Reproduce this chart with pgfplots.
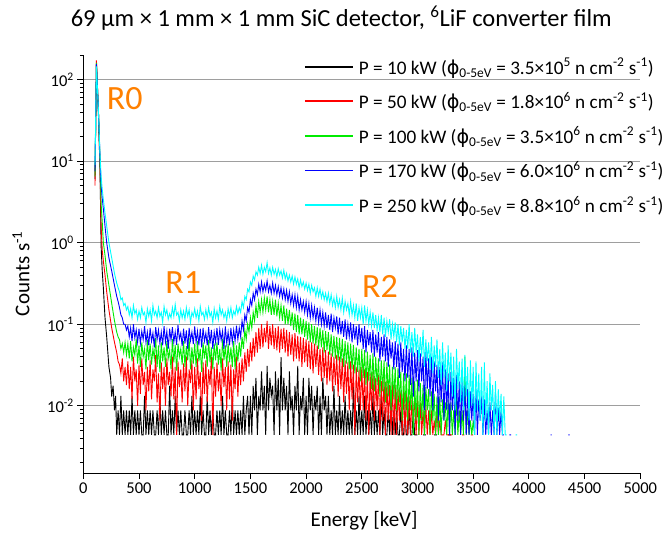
\documentclass[border=0pt]{standalone}
\usepackage{pgfplots}
\pgfplotsset{compat=1.18}
\usepackage{fontspec}
\setmainfont{Carlito}
\newfontfamily\dejavu{DejaVu Sans}
\definecolor{myorange}{RGB}{255,128,0}
\definecolor{mygreen}{RGB}{0,235,0}
\definecolor{mycyan}{RGB}{0,255,255}
\definecolor{myblue}{RGB}{0,0,255}
\definecolor{myred}{RGB}{255,0,0}

\begin{document}
\begin{tikzpicture}
\useasboundingbox (-83.3bp,-63bp) rectangle (580.7bp,473bp);
\begin{axis}[
  at={(0,0)}, anchor=south west,
  scale only axis, width=557bp, height=418bp,
  ymode=log, xmin=0, xmax=5000, ymin=0.0015, ymax=200,
  axis x line=bottom, axis y line=left,
  axis line style={-, line width=0.9bp, black},
  xtick={0,500,1000,1500,2000,2500,3000,3500,4000,4500,5000},
  xticklabels={0,500,1000,1500,2000,2500,3000,3500,4000,4500,5000},
  ytick={0.01,0.1,1,10,100},
  yticklabels={10\textsuperscript{-2},10\textsuperscript{-1},10\textsuperscript{0},10\textsuperscript{1},10\textsuperscript{2}},
  minor ytick={0.002,0.003,0.004,0.005,0.006,0.007,0.008,0.009,0.02,0.03,0.04,0.05,0.06,0.07,0.08,0.09,0.2,0.3,0.4,0.5,0.6,0.7,0.8,0.9,2,3,4,5,6,7,8,9,20,30,40,50,60,70,80,90,200},
  tick align=outside, major tick length=6bp, minor tick length=3.5bp,
  tick style={black, line width=0.9bp},
  ymajorgrids, major grid style={black!38, line width=0.9bp},
  tick label style={font=\fontsize{16.5bp}{19bp}\selectfont},
  xlabel={Energy [keV]}, ylabel={Counts s\textsuperscript{-1}},
  label style={font=\fontsize{21bp}{24bp}\selectfont},
  xlabel style={at={(axis description cs:0.504,-0.115)}, anchor=center},
  ylabel style={at={(axis description cs:-0.112,0.477)}, anchor=center},
  unbounded coords=jump,
  legend style={draw=none, fill=none, at={(axis description cs:0.396,0.998)}, anchor=north west,
    font=\fontsize{19.2bp}{23bp}\selectfont, row sep=12.5bp, column sep=3bp, inner sep=0pt,
    nodes={inner sep=2bp}},
  legend cell align=left,
  legend image code/.code={\draw[#1, line width=1.8bp] (0bp,0bp) -- (48bp,0bp);},
  clip=true,
]
% ---------------- P = 10 kW (black) ----------------
\addplot[black, line width=0.9bp] coordinates {
(105,6)(118,150)(135,40)(150,8)(160,.9)(170,.45)(180,.28)(195,.12)(210,.07)(230,.03)(245,.022)(255,.013)(267.5,.0176)(280,.0088)(290,.0132)(300,.0044)(312.5,.0088)(325,.0044)(337.5,.0132)(350,.0044)(362.5,.0088)(375,.0044)(387.5,.0088)
(400,.0044)(412.5,.0088)(425,.0044)(437.5,.0132)(450,.0044)(462.5,.0088)(475,.0044)(487.5,.0088)
(500,.0044)(512.5,.0088)(525,.0044)(537.5,.0044)(550,.0132)(562.5,.0044)(575,.0088)(587.5,.0044)
(600,.0088)(612.5,.0044)(625,.0088)(637.5,.0044)(650,.0044)(662.5,.0088)(675,.0044)(687.5,.0132)
(700,.0044)(712.5,.0088)(725,.0044)(737.5,.0088)(750,.0044)(762.5,.0044)(775,.0176)(787.5,.0044)
(800,.0088)(812.5,.0044)(825,.0132)(837.5,.0044)(850,.0088)(862.5,.0044)(875,.0088)(887.5,.0044)
(900,.0044)(912.5,.0088)(925,.0044)(937.5,.0044)(950,.0088)(962.5,.0044)(975,.0132)(987.5,.0044)
(1000,.0088)(1012.5,.0044)(1025,.0088)(1037.5,.0044)(1050,.0132)(1062.5,.0044)(1075,.0088)(1087.5,.0044)
(1100,.0044)(1112.5,.0132)(1125,.0044)(1137.5,.0088)(1150,.0044)(1162.5,.0088)(1175,.0044)(1187.5,.0044)
(1200,.0088)(1212.5,.0044)(1225,.0088)(1237.5,.0044)(1250,.0132)(1262.5,.0044)(1275,.0088)(1287.5,.0044)
(1300,.0044)(1312.5,.0088)(1325,.0044)(1337.5,.0132)(1350,.0044)(1362.5,.0088)(1375,.0044)(1387.5,.0088)
(1400,.0044)(1412.5,.0088)(1425,.0044)(1437.5,.0132)(1450,.0044)(1462.5,.0088)(1475,.0132)(1487.5,.0044)
(1500,.0132)(1512.5,.0044)(1525,.0176)(1537.5,.0088)(1550,.022)(1562.5,.0044)(1575,.0132)(1587.5,.0088)
(1600,.0264)(1612.5,.0088)(1625,.0176)(1637.5,.0044)(1650,.0308)(1662.5,.0088)(1675,.022)(1687.5,.0132)
(1700,.0176)(1712.5,.0044)(1725,.0264)(1737.5,.0088)(1750,.022)(1762.5,.0044)(1775,.0396)(1787.5,.0088)
(1800,.022)(1812.5,.0088)(1825,.0176)(1837.5,.0044)(1850,.0264)(1862.5,.0088)(1875,.0132)(1887.5,.0044)
(1900,.0176)(1912.5,.0088)(1925,.0308)(1937.5,.0044)(1950,.0132)(1962.5,.0088)(1975,.022)(1987.5,.0044)
(2000,.0132)(2012.5,.0044)(2025,.022)(2037.5,.0088)(2050,.0176)(2062.5,.0044)(2075,.0132)(2087.5,.0088)
(2100,.0176)(2112.5,.0044)(2125,.0132)(2137.5,.0044)(2150,.022)(2162.5,.0088)(2175,.0132)(2187.5,.0044)
(2200,.0132)(2212.5,.0044)(2225,.0088)(2237.5,.0044)(2250,.0176)(2262.5,.0044)(2275,.0088)(2287.5,.0044)
(2300,.0132)(2312.5,.0044)(2325,.0088)(2337.5,.0044)(2350,.0132)(2362.5,.0044)(2375,.0088)(2387.5,.0044)
(2400,.0088)(2412.5,.0044)(2425,.0176)(2437.5,.0044)(2450,.0088)(2462.5,.0044)(2475,.0132)(2487.5,.0044)
(2500,.0088)(2512.5,.0044)(2525,.0132)(2537.5,.0044)(2550,.0088)(2562.5,.0044)(2575,.0088)(2587.5,.0044)
(2600,.0132)(2612.5,.0044)(2625,.0088)(2637.5,.0044)(2650,.0088)(2662.5,.0044)(2675,.0132)(2687.5,.0044)
(2700,.0088)(2712.5,.0044)(2725,.0044)(2737.5,.0088)(2750,.0044)(2762.5,.0132)(2775,.0044)(2787.5,.0088)
(2800,.0044)(2812.5,.0088)(2825,.0044)(2837.5,.0044)(2850,.0088)(2862.5,.0044)(2875,.0044)(2887.5,.0088)
(2900,.0044)(2912.5,.0044)(2925,.0088)(2937.5,.0044)(2950,.0044)(2962.5,.0088)(2975,.0044)(2987.5,.0044)
(3000,.0044)(3010,nan)(3050,.0044)(3075,.0044)(3090,nan)(3150,.0044)(3175,.0044)(3190,nan)(3275,.0044)(3300,.0044)
};
\addlegendentry{P = 10 kW ({\dejavu ϕ}\textsubscript{0-5eV} = 3.5×10\textsuperscript{5} n cm\textsuperscript{-2} s\textsuperscript{-1})}
% ---------------- P = 50 kW (red) ----------------
\addplot[myred, line width=0.9bp] coordinates {
(105,5)(118,172)(135,45)(150,9)(160,1.6)(170,.8)(180,.6)(195,.4)(210,.25)(230,.15)(255,.09)(280,.06)(300,.045)(312.5,.035)(325,.032)(337.5,.025)(350,.038)(362.5,.02)(375,.03)(387.5,.018)
(400,.035)(412.5,.016)(425,.03)(437.5,.012)(450,.04)(462.5,.02)(475,.028)(487.5,.01)
(500,.032)(512.5,.014)(525,.038)(537.5,.018)(550,.026)(562.5,.0088)(575,.03)(587.5,.015)
(600,.036)(612.5,.012)(625,.028)(637.5,.02)(650,.042)(662.5,.011)(675,.025)(687.5,.0066)
(700,.034)(712.5,.016)(725,.03)(737.5,.01)(750,.038)(762.5,.018)(775,.026)(787.5,.013)
(800,.04)(812.5,.012)(825,.03)(837.5,.0044)(850,.035)(862.5,.017)(875,.028)(887.5,.011)
(900,.033)(912.5,.015)(925,.04)(937.5,.01)(950,.028)(962.5,.019)(975,.036)(987.5,.0088)
(1000,.03)(1012.5,.012)(1025,.038)(1037.5,.016)(1050,.026)(1062.5,.0066)(1075,.034)(1087.5,.014)
(1100,.036)(1112.5,.011)(1125,.028)(1137.5,.018)(1150,.04)(1162.5,.0044)(1175,.03)(1187.5,.013)
(1200,.034)(1212.5,.015)(1225,.026)(1237.5,.01)(1250,.038)(1262.5,.017)(1275,.03)(1287.5,.0088)
(1300,.035)(1312.5,.012)(1325,.032)(1337.5,.0066)(1350,.028)(1362.5,.016)(1375,.04)(1387.5,.013)
(1400,.034)(1412.5,.018)(1425,.038)(1437.5,.02)(1450,.045)(1462.5,.026)(1475,.05)(1487.5,.03)
(1500,.06)(1512.5,.035)(1525,.068)(1537.5,.04)(1550,.08)(1562.5,.045)(1575,.09)(1587.5,.05)
(1600,.1)(1612.5,.052)(1625,.09)(1637.5,.06)(1650,.11)(1662.5,.05)(1675,.095)(1687.5,.055)
(1700,.1)(1712.5,.05)(1725,.09)(1737.5,.048)(1750,.095)(1762.5,.045)(1775,.088)(1787.5,.05)
(1800,.09)(1812.5,.045)(1825,.085)(1837.5,.04)(1850,.08)(1862.5,.042)(1875,.075)(1887.5,.035)
(1900,.078)(1912.5,.038)(1925,.072)(1937.5,.035)(1950,.07)(1962.5,.03)(1975,.068)(1987.5,.034)
(2000,.065)(2012.5,.03)(2025,.062)(2037.5,.028)(2050,.06)(2062.5,.025)(2075,.058)(2087.5,.03)
(2100,.055)(2112.5,.024)(2125,.05)(2137.5,.02)(2150,.052)(2162.5,.022)(2175,.048)(2187.5,.018)
(2200,.046)(2212.5,.02)(2225,.044)(2237.5,.015)(2250,.04)(2262.5,.018)(2275,.042)(2287.5,.013)
(2300,.04)(2312.5,.016)(2325,.038)(2337.5,.011)(2350,.036)(2362.5,.014)(2375,.034)(2387.5,.0088)
(2400,.035)(2412.5,.012)(2425,.032)(2437.5,.0044)(2450,.03)(2462.5,.011)(2475,.028)(2487.5,.0088)
(2500,.03)(2512.5,.0088)(2525,.028)(2537.5,.0066)(2550,.026)(2562.5,.0044)(2575,.025)(2587.5,.0088)
(2600,.026)(2612.5,.0066)(2625,.022)(2637.5,.0088)(2650,.024)(2662.5,.0044)(2675,.02)(2687.5,.0066)
(2700,.022)(2712.5,.0044)(2725,.02)(2737.5,.0066)(2750,.018)(2762.5,.0044)(2775,.019)(2787.5,.0044)
(2800,.018)(2812.5,.0044)(2825,.016)(2837.5,.0066)(2850,.015)(2862.5,.0044)(2875,.016)(2887.5,.0044)
(2900,.015)(2912.5,.0044)(2925,.013)(2937.5,.0044)(2950,.012)(2962.5,.0066)(2975,.013)(2987.5,.0044)
(3000,.012)(3012.5,.0044)(3025,.011)(3037.5,.0044)(3050,.0088)(3062.5,.0044)(3075,.01)(3087.5,.0044)
(3100,.0088)(3112.5,.0044)(3125,.0088)(3137.5,.0044)(3150,.0066)(3162.5,.0044)(3175,.0088)(3187.5,.0044)
(3200,.0066)(3212.5,.0044)(3225,.0044)(3237.5,.0044)(3250,.0066)(3262.5,.0044)(3275,.0044)(3287.5,.0044)
(3300,.0044)(3312.5,.0044)(3320,nan)(3400,.0044)(3420,.0044)(3430,nan)(3480,.0044)(3500,.0044)
};
\addlegendentry{P = 50 kW ({\dejavu ϕ}\textsubscript{0-5eV} = 1.8×10\textsuperscript{6} n cm\textsuperscript{-2} s\textsuperscript{-1})}
% ---------------- P = 100 kW (green) ----------------
\addplot[mygreen, line width=0.9bp] coordinates {
(105,6.5)(118,160)(135,45)(150,10)(160,3)(170,1.8)(180,1)(195,.7)(210,.45)(230,.3)(255,.18)(280,.11)(300,.08)(312.5,.07)(325,.065)(337.5,.05)(350,.058)(362.5,.045)(375,.06)(387.5,.042)
(400,.058)(412.5,.038)(425,.062)(437.5,.035)(450,.052)(462.5,.042)(475,.066)(487.5,.033)
(500,.055)(512.5,.03)(525,.06)(537.5,.04)(550,.05)(562.5,.028)(575,.064)(587.5,.036)
(600,.058)(612.5,.032)(625,.05)(637.5,.038)(650,.068)(662.5,.03)(675,.055)(687.5,.026)
(700,.06)(712.5,.035)(725,.052)(737.5,.03)(750,.062)(762.5,.038)(775,.048)(787.5,.028)
(800,.066)(812.5,.034)(825,.056)(837.5,.027)(850,.058)(862.5,.04)(875,.05)(887.5,.032)
(900,.062)(912.5,.03)(925,.054)(937.5,.036)(950,.068)(962.5,.028)(975,.052)(987.5,.033)
(1000,.058)(1012.5,.03)(1025,.062)(1037.5,.035)(1050,.05)(1062.5,.026)(1075,.06)(1087.5,.038)
(1100,.055)(1112.5,.03)(1125,.064)(1137.5,.034)(1150,.052)(1162.5,.028)(1175,.058)(1187.5,.036)
(1200,.06)(1212.5,.032)(1225,.05)(1237.5,.027)(1250,.066)(1262.5,.036)(1275,.055)(1287.5,.03)
(1300,.058)(1312.5,.034)(1325,.052)(1337.5,.03)(1350,.062)(1362.5,.028)(1375,.055)(1387.5,.035)
(1400,.06)(1412.5,.04)(1425,.07)(1437.5,.05)(1450,.085)(1462.5,.065)(1475,.1)(1487.5,.08)
(1500,.12)(1512.5,.09)(1525,.14)(1537.5,.11)(1550,.17)(1562.5,.12)(1575,.19)(1587.5,.14)
(1600,.2)(1612.5,.14)(1625,.21)(1637.5,.15)(1650,.22)(1662.5,.14)(1675,.2)(1687.5,.13)
(1700,.19)(1712.5,.13)(1725,.2)(1737.5,.125)(1750,.18)(1762.5,.12)(1775,.17)(1787.5,.11)
(1800,.17)(1812.5,.1)(1825,.155)(1837.5,.1)(1850,.15)(1862.5,.095)(1875,.14)(1887.5,.085)
(1900,.135)(1912.5,.08)(1925,.13)(1937.5,.075)(1950,.12)(1962.5,.075)(1975,.115)(1987.5,.07)
(2000,.11)(2012.5,.065)(2025,.105)(2037.5,.06)(2050,.1)(2062.5,.058)(2075,.095)(2087.5,.055)
(2100,.092)(2112.5,.05)(2125,.09)(2137.5,.052)(2150,.085)(2162.5,.045)(2175,.082)(2187.5,.048)
(2200,.08)(2212.5,.042)(2225,.075)(2237.5,.04)(2250,.072)(2262.5,.038)(2275,.07)(2287.5,.036)
(2300,.068)(2312.5,.034)(2325,.066)(2337.5,.03)(2350,.062)(2362.5,.033)(2375,.06)(2387.5,.028)
(2400,.058)(2412.5,.028)(2425,.056)(2437.5,.025)(2450,.052)(2462.5,.026)(2475,.05)(2487.5,.02)
(2500,.05)(2512.5,.022)(2525,.048)(2537.5,.018)(2550,.046)(2562.5,.02)(2575,.042)(2587.5,.016)
(2600,.044)(2612.5,.015)(2625,.04)(2637.5,.018)(2650,.038)(2662.5,.013)(2675,.036)(2687.5,.015)
(2700,.036)(2712.5,.011)(2725,.034)(2737.5,.013)(2750,.032)(2762.5,.0088)(2775,.03)(2787.5,.012)
(2800,.03)(2812.5,.0088)(2825,.029)(2837.5,.011)(2850,.026)(2862.5,.0066)(2875,.025)(2887.5,.0088)
(2900,.025)(2912.5,.0066)(2925,.024)(2937.5,.0088)(2950,.022)(2962.5,.0044)(2975,.02)(2987.5,.0066)
(3000,.021)(3012.5,.0044)(3025,.019)(3037.5,.0066)(3050,.018)(3062.5,.0044)(3075,.017)(3087.5,.0088)
(3100,.016)(3112.5,.0044)(3125,.015)(3137.5,.0066)(3150,.014)(3162.5,.0044)(3175,.013)(3187.5,.0044)
(3200,.013)(3212.5,.0044)(3225,.012)(3237.5,.0066)(3250,.011)(3262.5,.0044)(3275,.012)(3287.5,.0044)
(3300,.011)(3312.5,.0044)(3325,.0088)(3337.5,.0044)(3350,.013)(3362.5,.0044)(3375,.0088)(3387.5,.0044)
(3400,.0088)(3412.5,.0044)(3425,.04)(3437.5,.0044)(3450,.0088)(3462.5,.0044)(3475,.0066)(3487.5,.0044)
(3500,.0066)(3512.5,.0044)
};
\addlegendentry{P = 100 kW ({\dejavu ϕ}\textsubscript{0-5eV} = 3.5×10\textsuperscript{6} n cm\textsuperscript{-2} s\textsuperscript{-1})}
% ---------------- P = 170 kW (blue) ----------------
\addplot[myblue, line width=0.9bp] coordinates {
(105,7.5)(118,155)(135,45)(150,11)(160,5)(170,3.5)(180,2.6)(195,1.6)(210,1.0)(230,.65)(255,.45)(280,.3)(300,.22)(312.5,.19)(325,.16)(337.5,.13)(350,.12)(362.5,.1)(375,.1)(387.5,.085)
(400,.095)(412.5,.07)(425,.09)(437.5,.062)(450,.1)(462.5,.068)(475,.085)(487.5,.06)
(500,.088)(512.5,.058)(525,.082)(537.5,.065)(550,.095)(562.5,.06)(575,.08)(587.5,.055)
(600,.09)(612.5,.062)(625,.078)(637.5,.052)(650,.092)(662.5,.065)(675,.085)(687.5,.058)
(700,.08)(712.5,.055)(725,.095)(737.5,.06)(750,.082)(762.5,.05)(775,.088)(787.5,.064)
(800,.092)(812.5,.06)(825,.08)(837.5,.056)(850,.098)(862.5,.066)(875,.078)(887.5,.054)
(900,.088)(912.5,.058)(925,.084)(937.5,.05)(950,.09)(962.5,.063)(975,.08)(987.5,.057)
(1000,.094)(1012.5,.06)(1025,.082)(1037.5,.055)(1050,.088)(1062.5,.052)(1075,.09)(1087.5,.062)
(1100,.078)(1112.5,.055)(1125,.092)(1137.5,.058)(1150,.085)(1162.5,.05)(1175,.08)(1187.5,.06)
(1200,.09)(1212.5,.056)(1225,.086)(1237.5,.064)(1250,.082)(1262.5,.05)(1275,.094)(1287.5,.058)
(1300,.08)(1312.5,.055)(1325,.09)(1337.5,.06)(1350,.085)(1362.5,.062)(1375,.096)(1387.5,.065)
(1400,.09)(1412.5,.07)(1425,.11)(1437.5,.085)(1450,.13)(1462.5,.11)(1475,.16)(1487.5,.14)
(1500,.2)(1512.5,.17)(1525,.24)(1537.5,.2)(1550,.27)(1562.5,.23)(1575,.31)(1587.5,.25)
(1600,.33)(1612.5,.25)(1625,.31)(1637.5,.26)(1650,.34)(1662.5,.25)(1675,.3)(1687.5,.24)
(1700,.32)(1712.5,.24)(1725,.3)(1737.5,.23)(1750,.29)(1762.5,.22)(1775,.28)(1787.5,.21)
(1800,.27)(1812.5,.2)(1825,.26)(1837.5,.19)(1850,.25)(1862.5,.18)(1875,.23)(1887.5,.17)
(1900,.23)(1912.5,.16)(1925,.22)(1937.5,.15)(1950,.2)(1962.5,.15)(1975,.19)(1987.5,.14)
(2000,.19)(2012.5,.13)(2025,.18)(2037.5,.12)(2050,.17)(2062.5,.12)(2075,.16)(2087.5,.11)
(2100,.16)(2112.5,.105)(2125,.15)(2137.5,.1)(2150,.14)(2162.5,.095)(2175,.14)(2187.5,.09)
(2200,.13)(2212.5,.085)(2225,.135)(2237.5,.08)(2250,.12)(2262.5,.09)(2275,.125)(2287.5,.075)
(2300,.12)(2312.5,.075)(2325,.11)(2337.5,.07)(2350,.115)(2362.5,.065)(2375,.1)(2387.5,.07)
(2400,.105)(2412.5,.06)(2425,.1)(2437.5,.065)(2450,.095)(2462.5,.055)(2475,.1)(2487.5,.06)
(2500,.09)(2512.5,.05)(2525,.095)(2537.5,.045)(2550,.085)(2562.5,.055)(2575,.08)(2587.5,.045)
(2600,.085)(2612.5,.04)(2625,.075)(2637.5,.045)(2650,.08)(2662.5,.035)(2675,.07)(2687.5,.04)
(2700,.075)(2712.5,.035)(2725,.07)(2737.5,.03)(2750,.065)(2762.5,.038)(2775,.06)(2787.5,.028)
(2800,.062)(2812.5,.03)(2825,.058)(2837.5,.022)(2850,.06)(2862.5,.026)(2875,.05)(2887.5,.02)
(2900,.055)(2912.5,.022)(2925,.05)(2937.5,.018)(2950,.052)(2962.5,.013)(2975,.045)(2987.5,.02)
(3000,.048)(3012.5,.015)(3025,.044)(3037.5,.02)(3050,.04)(3062.5,.0088)(3075,.046)(3087.5,.016)
(3100,.038)(3112.5,.013)(3125,.04)(3137.5,.0088)(3150,.035)(3162.5,.015)(3175,.032)(3187.5,.0066)
(3200,.03)(3212.5,.011)(3225,.034)(3237.5,.0066)(3250,.028)(3262.5,.0088)(3275,.025)(3287.5,.0044)
(3300,.026)(3312.5,.0088)(3325,.022)(3337.5,.0044)(3350,.024)(3362.5,.0066)(3375,.02)(3387.5,.0044)
(3400,.02)(3412.5,.0066)(3425,.018)(3437.5,.0044)(3450,.016)(3462.5,.0044)(3475,.015)(3487.5,.0066)
(3500,.014)(3512.5,.0044)(3525,.016)(3537.5,.0044)(3550,.012)(3562.5,.0066)(3575,.013)(3587.5,.0044)
(3600,.012)(3612.5,.0044)(3625,.0088)(3637.5,.0044)(3650,.011)(3662.5,.0044)(3675,.0088)(3687.5,.0044)
(3700,.014)(3712.5,.0044)(3725,.0095)(3737.5,.0044)(3750,.0088)(3762.5,.0044)(3775,.0044)
(3790,nan)(3825,.0044)(3840,.0044)(3850,nan)(4195,.0044)(4205,.0044)(4215,nan)(4355,.0044)(4365,.0044)
};
\addlegendentry{P = 170 kW ({\dejavu ϕ}\textsubscript{0-5eV} = 6.0×10\textsuperscript{6} n cm\textsuperscript{-2} s\textsuperscript{-1})}
% ---------------- P = 250 kW (cyan) ----------------
\addplot[mycyan, line width=0.9bp] coordinates {
(105,9)(118,145)(135,45)(150,12)(160,6.5)(170,4.5)(180,3.4)(195,2.3)(210,1.6)(230,1.0)(255,0.65)(280,0.42)(300,0.32)(312.5,.28)(325,.25)(337.5,.2)(350,.21)(362.5,.17)(375,.18)(387.5,.15)
(400,.165)(412.5,.13)(425,.155)(437.5,.12)(450,.17)(462.5,.135)(475,.15)(487.5,.115)
(500,.145)(512.5,.12)(525,.16)(537.5,.13)(550,.14)(562.5,.105)(575,.155)(587.5,.125)
(600,.15)(612.5,.11)(625,.17)(637.5,.13)(650,.145)(662.5,.12)(675,.16)(687.5,.125)
(700,.14)(712.5,.105)(725,.165)(737.5,.13)(750,.15)(762.5,.115)(775,.135)(787.5,.12)
(800,.16)(812.5,.125)(825,.175)(837.5,.13)(850,.14)(862.5,.11)(875,.15)(887.5,.12)
(900,.145)(912.5,.115)(925,.16)(937.5,.125)(950,.15)(962.5,.105)(975,.14)(987.5,.125)
(1000,.155)(1012.5,.12)(1025,.145)(1037.5,.11)(1050,.165)(1062.5,.13)(1075,.14)(1087.5,.115)
(1100,.15)(1112.5,.12)(1125,.16)(1137.5,.125)(1150,.14)(1162.5,.105)(1175,.155)(1187.5,.12)
(1200,.145)(1212.5,.115)(1225,.165)(1237.5,.13)(1250,.15)(1262.5,.12)(1275,.14)(1287.5,.11)
(1300,.155)(1312.5,.125)(1325,.16)(1337.5,.12)(1350,.145)(1362.5,.13)(1375,.165)(1387.5,.135)
(1400,.16)(1412.5,.14)(1425,.19)(1437.5,.16)(1450,.22)(1462.5,.2)(1475,.27)(1487.5,.25)
(1500,.33)(1512.5,.3)(1525,.39)(1537.5,.35)(1550,.44)(1562.5,.4)(1575,.5)(1587.5,.42)
(1600,.53)(1612.5,.41)(1625,.5)(1637.5,.44)(1650,.57)(1662.5,.42)(1675,.49)(1687.5,.4)
(1700,.5)(1712.5,.41)(1725,.47)(1737.5,.38)(1750,.48)(1762.5,.4)(1775,.45)(1787.5,.37)
(1800,.46)(1812.5,.36)(1825,.42)(1837.5,.34)(1850,.4)(1862.5,.33)(1875,.39)(1887.5,.31)
(1900,.38)(1912.5,.31)(1925,.36)(1937.5,.28)(1950,.35)(1962.5,.29)(1975,.33)(1987.5,.27)
(2000,.32)(2012.5,.26)(2025,.31)(2037.5,.24)(2050,.3)(2062.5,.25)(2075,.28)(2087.5,.22)
(2100,.28)(2112.5,.22)(2125,.27)(2137.5,.21)(2150,.25)(2162.5,.2)(2175,.24)(2187.5,.19)
(2200,.24)(2212.5,.18)(2225,.23)(2237.5,.17)(2250,.21)(2262.5,.16)(2275,.22)(2287.5,.16)
(2300,.2)(2312.5,.15)(2325,.21)(2337.5,.14)(2350,.19)(2362.5,.15)(2375,.18)(2387.5,.13)
(2400,.19)(2412.5,.13)(2425,.17)(2437.5,.12)(2450,.18)(2462.5,.11)(2475,.16)(2487.5,.12)
(2500,.16)(2512.5,.1)(2525,.17)(2537.5,.11)(2550,.15)(2562.5,.1)(2575,.14)(2587.5,.095)
(2600,.14)(2612.5,.09)(2625,.13)(2637.5,.085)(2650,.12)(2662.5,.08)(2675,.13)(2687.5,.075)
(2700,.12)(2712.5,.07)(2725,.11)(2737.5,.08)(2750,.115)(2762.5,.065)(2775,.1)(2787.5,.07)
(2800,.105)(2812.5,.06)(2825,.1)(2837.5,.055)(2850,.095)(2862.5,.06)(2875,.09)(2887.5,.05)
(2900,.085)(2912.5,.05)(2925,.1)(2937.5,.045)(2950,.08)(2962.5,.04)(2975,.09)(2987.5,.045)
(3000,.075)(3012.5,.035)(3025,.07)(3037.5,.04)(3050,.085)(3062.5,.03)(3075,.065)(3087.5,.035)
(3100,.06)(3112.5,.028)(3125,.07)(3137.5,.025)(3150,.055)(3162.5,.03)(3175,.065)(3187.5,.022)
(3200,.05)(3212.5,.018)(3225,.06)(3237.5,.022)(3250,.045)(3262.5,.015)(3275,.055)(3287.5,.02)
(3300,.045)(3312.5,.013)(3325,.04)(3337.5,.0088)(3350,.05)(3362.5,.016)(3375,.035)(3387.5,.011)
(3400,.038)(3412.5,.0088)(3425,.042)(3437.5,.013)(3450,.03)(3462.5,.0066)(3475,.036)(3487.5,.01)
(3500,.03)(3512.5,.0044)(3525,.035)(3537.5,.0088)(3550,.025)(3562.5,.0066)(3575,.03)(3587.5,.0044)
(3600,.034)(3612.5,.0066)(3625,.02)(3637.5,.0044)(3650,.025)(3662.5,.0088)(3675,.018)(3687.5,.0044)
(3700,.02)(3712.5,.0044)(3725,.016)(3737.5,.0066)(3750,.014)(3762.5,.0044)(3775,.013)(3787.5,.0044)
(3800,.0044)(3810,nan)(3880,.0044)(3895,.0044)
};
\addlegendentry{P = 250 kW ({\dejavu ϕ}\textsubscript{0-5eV} = 8.8×10\textsuperscript{6} n cm\textsuperscript{-2} s\textsuperscript{-1})}
\node[text=myorange, font=\fontsize{34bp}{40bp}\selectfont] at (axis cs:372,59) {R0};
\node[text=myorange, font=\fontsize{34bp}{40bp}\selectfont] at (axis cs:898,0.325) {R1};
\node[text=myorange, font=\fontsize{34bp}{40bp}\selectfont] at (axis cs:2663,0.29) {R2};
\end{axis}
\node[font=\fontsize{24.5bp}{28bp}\selectfont] at (258bp,455bp) {69 μm × 1 mm × 1 mm SiC detector, \textsuperscript{6}LiF converter film};
\end{tikzpicture}
\end{document}
